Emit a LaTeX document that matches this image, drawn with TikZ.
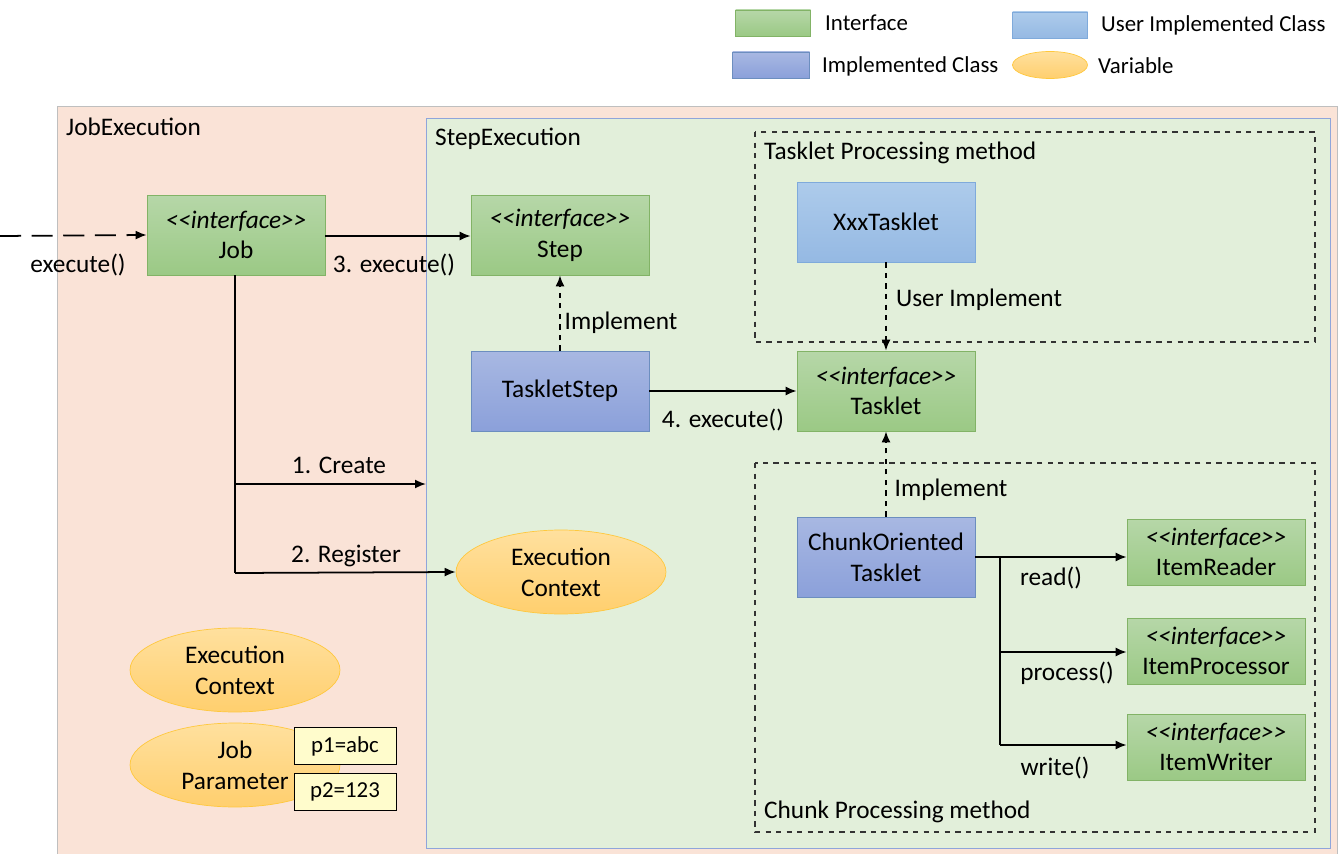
\documentclass[tikz,border=0pt]{standalone}
\usepackage{fontspec}
\setmainfont{Carlito}
\usetikzlibrary{shapes.geometric, arrows.meta}
\definecolor{jobbg}{HTML}{FAE3D7}
\definecolor{stepbg}{HTML}{E2EFDA}
\definecolor{ifTop}{HTML}{B6D7A8}
\definecolor{ifBot}{HTML}{9BC985}
\definecolor{ifLine}{HTML}{82B366}
\definecolor{imTop}{HTML}{A8B8E2}
\definecolor{imBot}{HTML}{8BA0DA}
\definecolor{imLine}{HTML}{6C8EBF}
\definecolor{uiTop}{HTML}{ADCBEB}
\definecolor{uiBot}{HTML}{95B9E3}
\definecolor{uiLine}{HTML}{7FAADB}
\definecolor{vaTop}{HTML}{FFE09E}
\definecolor{vaBot}{HTML}{FFCF6E}
\definecolor{vaLine}{HTML}{FFC83D}
\tikzset{ iface/.style = { rectangle
                         , draw         = ifLine
                         , top color    = ifTop
                         , bottom color = ifBot
                         , align        = center
                         , minimum width  = 3.56cm
                         , minimum height = 1.6cm
                         },
          impl/.style  = { rectangle
                         , draw         = imLine
                         , top color    = imTop
                         , bottom color = imBot
                         , align        = center
                         , minimum width  = 3.56cm
                         , minimum height = 1.6cm
                         },
          uimpl/.style = { rectangle
                         , draw         = uiLine
                         , top color    = uiTop
                         , bottom color = uiBot
                         , align        = center
                         , minimum width  = 3.56cm
                         , minimum height = 1.6cm
                         },
          var/.style   = { ellipse
                         , draw         = vaLine
                         , top color    = vaTop
                         , bottom color = vaBot
                         , align        = center
                         , minimum width  = 4.2cm
                         , minimum height = 1.68cm
                         , inner sep    = 0pt
                         },
          param/.style = { rectangle
                         , draw = black
                         , fill = yellow!20
                         , minimum width  = 2.04cm
                         , minimum height = 0.74cm
                         , font = \fontsize{13}{15}\selectfont
                         },
          legend/.style = { anchor = west
                          , font = \fontsize{13}{15}\selectfont
                          },
          arr/.style   = { -{Latex[length=2.2mm, width=1.8mm]}
                         , line width = 1pt
                         },
          frame/.style = { draw = black!80
                         , dashed
                         , line width = 0.8pt
                         }
        }
\newcommand{\ifc}[1]{\textit{<\kern0pt<interface>\kern0pt>}\\#1}

\begin{document}
\begin{tikzpicture}[x=0.02cm, y=-0.02cm, font=\fontsize{14.4}{17.5}\selectfont]
    \useasboundingbox (0,0) rectangle (1341,854);
    % legend
    \node[iface, minimum width=1.5cm, minimum height=0.52cm] (lgI) at (773,23) {};
    \node[legend] (lgIt) at (819,23) {Interface};
    \node[impl, minimum width=1.54cm, minimum height=0.52cm] (lgC) at (771,65) {};
    \node[legend] (lgCt) at (816,66) {Implemented Class};
    \node[uimpl, minimum width=1.5cm, minimum height=0.52cm] (lgU) at (1050,25) {};
    \node[legend] (lgUt) at (1095,25) {User Implemented Class};
    \node[var, minimum width=1.5cm, minimum height=0.54cm] (lgV) at (1050,65) {};
    \node[legend] (lgVt) at (1092,66) {Variable};

    % containers
    \draw[fill=jobbg, draw=black!25] (57,106) rectangle (1337,860);
    \node[anchor=west] (jobT) at (60,127) {JobExecution};
    \draw[fill=stepbg, draw=cyan!40!blue!45] (426,118) rectangle (1330,848);
    \node[anchor=west] (stepT) at (429,139) {StepExecution};
    \draw[frame] (755,132) rectangle (1315,342);
    \node[anchor=west] (tpT) at (758,153) {Tasklet Processing method};
    \draw[frame] (755,463) rectangle (1315,832);
    \node[anchor=west] (cpT) at (758,812) {Chunk Processing method};

    % nodes
    \node[iface] (job)  at (236,235) {\ifc{Job}};
    \node[iface] (step) at (560,235) {\ifc{Step}};
    \node[impl]  (tstep) at (560,391) {TaskletStep};
    \node[uimpl] (xxx)  at (886,222) {XxxTasklet};
    \node[iface] (tasklet) at (886,391) {\ifc{Tasklet}};
    \node[impl]  (chunk) at (886,557) {ChunkOriented\\Tasklet};
    \foreach \n/\t/\y in {reader/ItemReader/552, proc/ItemProcessor/651, writer/ItemWriter/747} {
      \node[iface, minimum height=1.32cm] (\n) at (1216,\y) {\ifc{\t}};
    }
    \node[var] (ctxS) at (561,572) {Execution\\Context};
    \node[var] (ctxJ) at (235,670) {Execution\\Context};
    \node[var] (jparam) at (235,765) {Job\\Parameter};
    \node[param] (p1) at (345,746) {p1=abc};
    \node[param] (p2) at (345,792) {p2=123};

    % connectors
    \coordinate (start) at (0,236);
    \draw[arr, dashed, dash pattern=on 12pt off 6pt] (start) -- (job.west);
    \node (exL) at (78,265) {execute()};
    \draw[arr] (job.east |- 0,236) -- (step.west |- 0,236);
    \node (ex3) at (394,265) {3. execute()};
    \coordinate (jb) at (235,573);
    \coordinate (cr) at (426,484);
    \draw[line width=1pt] (job.south -| jb) -- (jb);
    \draw[arr] (235,484) -- (cr);
    \node (crL) at (339,465) {1. Create};
    \draw[arr] (jb) -- (ctxS.west);
    \node (rgL) at (346,556) {2. Register};
    \draw[arr, dashed] (tstep.north) -- (step.south);
    \node (imL1) at (621,323) {Implement};
    \draw[arr] (tstep.east) -- (tasklet.west);
    \node (ex4) at (723,420) {4. execute()};
    \draw[arr, dashed] (xxx.south) -- (tasklet.north);
    \node (uiL) at (979,300) {User Implement};
    \draw[arr, dashed] (chunk.north) -- (tasklet.south);
    \node (imL2) at (951,490) {Implement};
    \coordinate (br) at (1000,557);
    \draw[line width=1.5pt] (chunk.east) -- (br) -- (1000,745);
    \draw[arr] (br) -- (reader.west |- br);
    \draw[arr] (1000,652) -- (proc.west |- 0,652);
    \draw[arr] (1000,745) -- (writer.west |- 0,745);
    \node (rdL) at (1051,578) {read()};
    \node (prL) at (1067,673) {process()};
    \node (wrL) at (1055,768) {write()};
\end{tikzpicture}
\end{document}
